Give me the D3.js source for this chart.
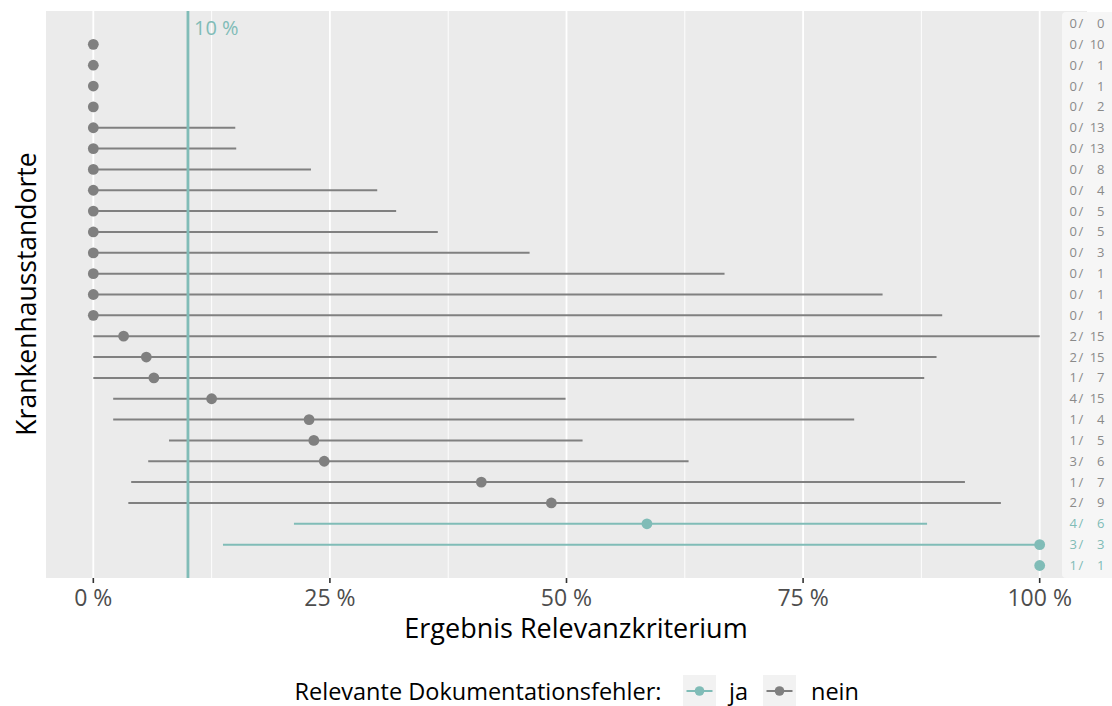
<!DOCTYPE html>
<html><head><meta charset="utf-8">
<script src="https://cdn.jsdelivr.net/npm/d3@7"></script>
<style>body{margin:0;background:#fff}svg{display:block}text{font-family:"Open Sans",sans-serif}</style>
</head><body><svg id="c" width="1112" height="706"></svg>
<script>
// ---- data ----
const sites = d3.range(1, 28).map(i => "KH" + String(i).padStart(2, "0"));
const numerators   = [0,0,0,0,0,0,0,0,0,0,0,0,0,0,0,2,2,1,4,1,1,3,1,2,4,3,1];
const denominators = [0,10,1,1,2,13,13,8,4,5,5,3,1,1,1,15,15,7,15,4,5,6,7,9,6,3,1];
const estimate = [null,0,0,0,0,0,0,0,0,0,0,0,0,0,0,3.2,5.6,6.4,12.5,22.8,23.3,24.4,41.0,48.4,58.5,100,100];
const lower    = [null,null,null,null,null,0,0,0,0,0,0,0,0,0,0,0,0,0,2.1,2.1,8.0,5.8,4.0,3.7,21.2,13.7,null];
const upper    = [null,null,null,null,null,15.0,15.1,23.0,30.0,32.0,36.4,46.1,66.7,83.4,89.7,100,89.1,87.8,49.9,80.4,51.7,62.9,92.1,95.9,88.1,100,null];
const fehler   = sites.map((s, i) => i >= 24 ? "ja" : "nein");
const xTicks = [0, 25, 50, 75, 100];
const xMinor = [12.5, 37.5, 62.5, 87.5];
const threshold = 10;
const groups = ["ja", "nein"];

const rows = sites.map((s, i) => ({site: s, num: numerators[i], den: denominators[i], est: estimate[i], lo: lower[i], hi: upper[i], grp: fehler[i]}));

const svg = d3.select("#c");
const P = {l: 46, r: 1087, t: 11, b: 578};
const x = d3.scaleLinear().domain([-5, 105]).range([P.l, P.r]);
const y = d3.scalePoint().domain(sites).range([P.t, P.b]).padding(0.6);
const col = d3.scaleOrdinal().domain(groups).range(["#80bcb7", "#808080"]);

// panel
svg.append("rect").attr("x", P.l).attr("y", P.t).attr("width", P.r - P.l).attr("height", P.b - P.t).attr("fill", "#ebebeb");
svg.append("g").selectAll("line").data(xMinor).join("line")
  .attr("x1", d => x(d)).attr("x2", d => x(d)).attr("y1", P.t).attr("y2", P.b)
  .attr("stroke", "#fff").attr("stroke-width", 0.9);
svg.append("g").selectAll("line").data(xTicks).join("line")
  .attr("x1", d => x(d)).attr("x2", d => x(d)).attr("y1", P.t).attr("y2", P.b)
  .attr("stroke", "#fff").attr("stroke-width", 1.8);

// CI segments
svg.append("g").selectAll("line").data(rows.filter(r => r.lo != null)).join("line")
  .attr("x1", d => x(d.lo)).attr("x2", d => x(d.hi)).attr("y1", d => y(d.site)).attr("y2", d => y(d.site))
  .attr("stroke", d => col(d.grp)).attr("stroke-width", 2);

// threshold line
svg.append("line").attr("x1", x(threshold)).attr("x2", x(threshold)).attr("y1", P.t).attr("y2", P.b)
  .attr("stroke", "#80bcb7").attr("stroke-width", 2.8);
svg.append("text").attr("x", x(threshold) + 6).attr("y", 35).attr("fill", "#80bcb7")
  .attr("font-size", 20).text(threshold + " %");

// points
svg.append("g").selectAll("circle").data(rows.filter(r => r.est != null)).join("circle")
  .attr("cx", d => x(d.est)).attr("cy", d => y(d.site)).attr("r", 5.4)
  .attr("fill", d => col(d.grp));

// label strip
svg.append("rect").attr("x", 1062).attr("y", P.t + 1).attr("width", 70).attr("height", P.b - P.t - 1)
  .attr("rx", 4).attr("fill", "#f6f6f6");
const lab = svg.append("g").attr("font-size", 13).style("font-family", "'Liberation Sans',Arial,sans-serif");
rows.forEach(d => {
  const yy = y(d.site) + 4.5;
  const c = d.grp === "ja" ? "#80bcb7" : "#8a8a8a";
  lab.append("text").attr("x", 1077).attr("y", yy).attr("text-anchor", "end").attr("fill", c).text(d.num);
  lab.append("text").attr("x", 1081).attr("y", yy).attr("text-anchor", "middle").attr("fill", c).text("/");
  lab.append("text").attr("x", 1104.5).attr("y", yy).attr("text-anchor", "end").attr("fill", c).text(d.den);
});

// x axis
const ax = svg.append("g");
ax.selectAll("line").data(xTicks).join("line")
  .attr("x1", d => x(d)).attr("x2", d => x(d)).attr("y1", P.b).attr("y2", P.b + 5)
  .attr("stroke", "#333").attr("stroke-width", 1.6);
ax.selectAll("text").data(xTicks).join("text")
  .attr("x", d => x(d)).attr("y", 605.5).attr("text-anchor", "middle").attr("font-size", 23)
  .attr("fill", "#4d4d4d").text(d => d + " %");

// titles
svg.append("text").attr("x", 576).attr("y", 637.5).attr("text-anchor", "middle").attr("font-size", 27)
  .attr("fill", "#000").text("Ergebnis Relevanzkriterium");
svg.append("text").attr("transform", "translate(36,294) rotate(-90)").attr("text-anchor", "middle")
  .attr("font-size", 26.5).attr("fill", "#000").text("Krankenhausstandorte");

// legend
const lg = svg.append("g");
lg.append("text").attr("x", 294.5).attr("y", 700).attr("font-size", 23.5).attr("fill", "#000").text("Relevante Dokumentationsfehler:");
const keys = [{g: "ja", x0: 683, tx: 729}, {g: "nein", x0: 763, tx: 811}];
keys.forEach(k => {
  lg.append("rect").attr("x", k.x0).attr("y", 675).attr("width", 33).attr("height", 32).attr("fill", "#f2f2f2");
  lg.append("line").attr("x1", k.x0 + 3.5).attr("x2", k.x0 + 29.5).attr("y1", 691).attr("y2", 691)
    .attr("stroke", col(k.g)).attr("stroke-width", 2);
  lg.append("circle").attr("cx", k.x0 + 16.5).attr("cy", 691).attr("r", 4.8).attr("fill", col(k.g));
  lg.append("text").attr("x", k.tx).attr("y", 700).attr("font-size", 23.5).attr("fill", "#000").text(k.g);
});
</script></body></html>
